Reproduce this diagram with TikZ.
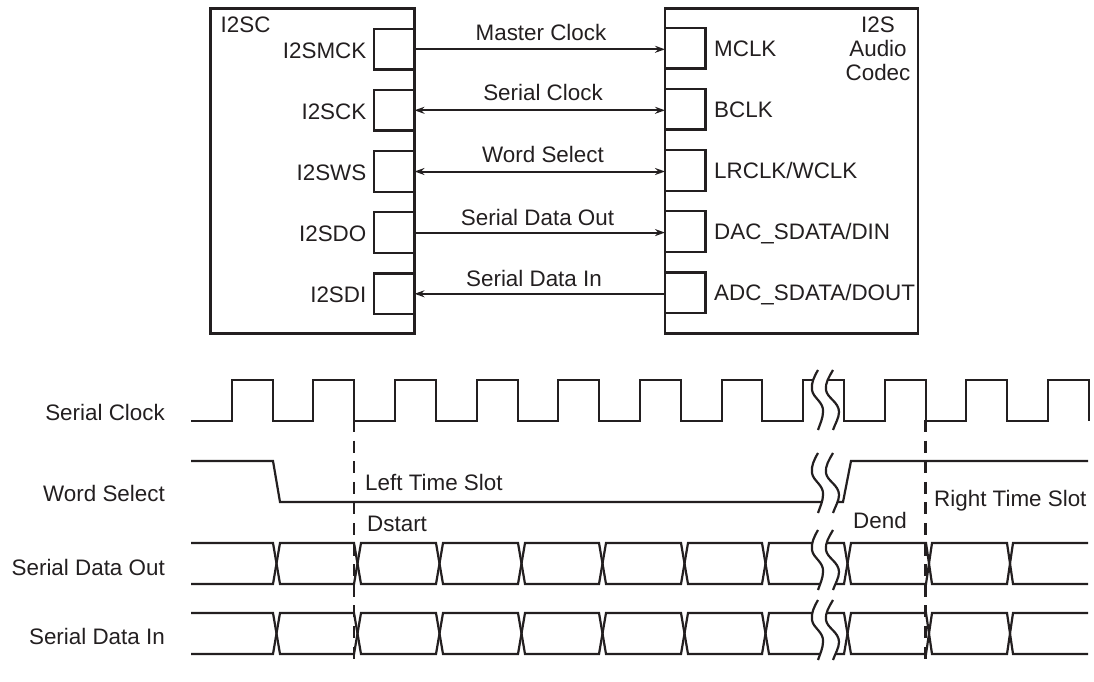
\documentclass[tikz,border=0pt]{standalone}
\usepackage{fontspec}
\setmainfont{Liberation Sans}
\usetikzlibrary{positioning, arrows.meta}
\definecolor{sigInk}{RGB}{35, 31, 32}

\begin{document}
\begin{tikzpicture}[
        x=1pt, y=-1pt,
        font=\fontsize{22.4}{24}\selectfont,
        text=sigInk,
        chip/.style={
            rectangle, draw=sigInk, line width=2.2pt, anchor=north west, outer sep=0pt,
            minimum width=#1, minimum height=325pt, inner sep=0pt
        },
        port/.style={
            rectangle, draw=sigInk, line width=2.2pt, outer sep=0pt,
            minimum width=40.5pt, minimum height=40.5pt, inner sep=0pt
        },
        portname/.style={inner sep=0pt, text height=16pt, text depth=0pt},
        txt/.style={inner sep=0pt},
        line/.style={draw=sigInk, line width=2pt},
        toR/.style={line, -{Stealth[length=10pt, width=7pt]}},
        toL/.style={line, {Stealth[length=10pt, width=7pt]}-},
        both/.style={line, {Stealth[length=10pt, width=7pt]}-{Stealth[length=10pt, width=7pt]}},
        wave/.style={draw=sigInk, line width=2.2pt, line join=miter},
        slot/.style={draw=sigInk, line width=2.2pt, dash pattern=on 12pt off 8.6pt},
        breakmark/.pic={
            \fill[white] (818,0) .. controls (814,7) and (811,13) .. (812,20)
                .. controls (813,28) and (824,32) .. (823,42)
                .. controls (823,48) and (820,54) .. (818,60)
                -- (833,60) .. controls (835,54) and (839,48) .. (839,42)
                .. controls (839,32) and (827,28) .. (826,20)
                .. controls (825,13) and (829,7) .. (833,0) -- cycle;
            \draw[wave] (818,0) .. controls (814,7) and (811,13) .. (812,20)
                .. controls (813,28) and (824,32) .. (823,42)
                .. controls (823,48) and (820,54) .. (818,60);
            \draw[wave] (833,0) .. controls (829,7) and (825,13) .. (826,20)
                .. controls (827,28) and (839,32) .. (839,42)
                .. controls (839,48) and (835,54) .. (833,60);
        }
    ]
    \useasboundingbox (0,0) rectangle (1094,682);

    % CHIPS
    \node[chip=204pt] (i2sc) at (210.5,8.5) {};
    \node[chip=253pt] (codec) at (665,8.5) {};
    \node[txt, anchor=base west] (i2scname) at (220.5,33) {I2SC};
    \node[txt, anchor=north, align=center] (codecname) at (878,16.5) {I2S\\Audio\\Codec};

    % PORTS ON I2SC
    \node[port, anchor=east] (mck) at (414.5,49.3) {};
    \node[port, anchor=east] (sck) at (414.5,110.3) {};
    \node[port, anchor=east] (sws) at (414.5,171.5) {};
    \node[port, anchor=east] (sdo) at (414.5,232.6) {};
    \node[port, anchor=east] (sdi) at (414.5,293.8) {};

    % PORTS ON CODEC
    \node[port, anchor=west] (mclk) at (665,48.3) {};
    \node[port, anchor=west] (bclk) at (665,109.3) {};
    \node[port, anchor=west] (lrclk) at (665,170.4) {};
    \node[port, anchor=west] (dac) at (665,231.6) {};
    \node[port, anchor=west] (adc) at (665,292.8) {};

    % PORT NAMES
    \node[portname, left=7.5pt of mck, yshift=-1pt] (mckname) {I2SMCK};
    \node[portname, left=7.5pt of sck, yshift=-1pt] (sckname) {I2SCK};
    \node[portname, left=7.5pt of sws, yshift=-1pt] (swsname) {I2SWS};
    \node[portname, left=7.5pt of sdo, yshift=-1pt] (sdoname) {I2SDO};
    \node[portname, left=7.5pt of sdi, yshift=-1pt] (sdiname) {I2SDI};
    \node[portname, right=8.5pt of mclk] (mclkname) {MCLK};
    \node[portname, right=8.5pt of bclk] (bclkname) {BCLK};
    \node[portname, right=8.5pt of lrclk] (lrclkname) {LRCLK/WCLK};
    \node[portname, right=8.5pt of dac] (dacname) {DAC\_SDATA/DIN};
    \node[portname, right=8.5pt of adc] (adcname) {ADC\_SDATA/DOUT};

    % CONNECT PORTS
    \draw[toR] (mck.east) -- (mck.east -| mclk.west);
    \draw[both] (sck.east) -- (sck.east -| bclk.west);
    \draw[both] (sws.east) -- (sws.east -| lrclk.west);
    \draw[toR] (sdo.east) -- (sdo.east -| dac.west);
    \draw[toL] (sdi.east) -- (sdi.east -| adc.west);

    \node[txt, anchor=base] (lblmck) at (541,41) {Master Clock};
    \node[txt, anchor=base] (lblsck) at (543,100.5) {Serial Clock};
    \node[txt, anchor=base] (lblsws) at (543,162) {Word Select};
    \node[txt, anchor=base] (lblsdo) at (537.5,225) {Serial Data Out};
    \node[txt, anchor=base] (lblsdi) at (534,286) {Serial Data In};

    % SIGNAL NAMES
    \node[txt, anchor=base east] (nameclk) at (165,420) {Serial Clock};
    \node[txt, anchor=base east] (namews) at (165,501) {Word Select};
    \node[txt, anchor=base east] (namedo) at (165,575) {Serial Data Out};
    \node[txt, anchor=base east] (namedi) at (165,644) {Serial Data In};

    % TIME SLOTS
    \draw[slot] (354,420) -- (354,664);
    \draw[slot] (925.5,420) -- (925.5,664);
    \node[txt, anchor=base west] (leftslot) at (365,490) {Left Time Slot};
    \node[txt, anchor=base west] (dstart) at (367,531) {Dstart};
    \node[txt, anchor=base west] (dend) at (853,528) {Dend};
    \node[txt, anchor=base west] (rightslot) at (934,506) {Right Time Slot};

    % SERIAL CLOCK
    \draw[wave] (191,421) -- (232,421) -- (232,380) -- (273,380) -- (273,421) -- (313,421) -- (313,380)
        -- (354,380) -- (354,421) -- (395,421) -- (395,380) -- (436,380) -- (436,421) -- (477,421)
        -- (477,380) -- (518,380) -- (518,421) -- (558,421) -- (558,380) -- (599,380) -- (599,421)
        -- (640,421) -- (640,380) -- (681,380) -- (681,421) -- (722,421) -- (722,380) -- (762,380)
        -- (762,421) -- (803,421) -- (803,380) -- (844,380) -- (844,421) -- (885,421) -- (885,380)
        -- (926,380) -- (926,421) -- (966,421) -- (966,380) -- (1007,380) -- (1007,421) -- (1048,421)
        -- (1048,380) -- (1089,380) -- (1089,421);

    % WORD SELECT
    \draw[wave] (191,461) -- (273,461) -- (280,502) -- (843,502) -- (851,461) -- (1088,461);

    % SERIAL DATA OUT
    \draw[wave] (191,543) -- (273,543) -- (280,584) -- (354,584) -- (361,543) -- (436,543) -- (443,584)
        -- (518,584) -- (525,543) -- (599,543) -- (606,584) -- (681,584) -- (688,543) -- (762,543)
        -- (769,584) -- (844,584) -- (851,543) -- (926,543) -- (932,584) -- (1007,584) -- (1013,543) -- (1088,543);
    \draw[wave] (191,584) -- (273,584) -- (280,543) -- (354,543) -- (361,584) -- (436,584) -- (443,543)
        -- (518,543) -- (525,584) -- (599,584) -- (606,543) -- (681,543) -- (688,584) -- (762,584)
        -- (769,543) -- (844,543) -- (851,584) -- (926,584) -- (932,543) -- (1007,543) -- (1013,584) -- (1088,584);

    % SERIAL DATA IN
    \draw[wave] (191,613) -- (273,613) -- (280,654) -- (354,654) -- (361,613) -- (436,613) -- (443,654)
        -- (518,654) -- (525,613) -- (599,613) -- (606,654) -- (681,654) -- (688,613) -- (762,613)
        -- (769,654) -- (844,654) -- (851,613) -- (926,613) -- (932,654) -- (1007,654) -- (1013,613) -- (1088,613);
    \draw[wave] (191,654) -- (273,654) -- (280,613) -- (354,613) -- (361,654) -- (436,654) -- (443,613)
        -- (518,613) -- (525,654) -- (599,654) -- (606,613) -- (681,613) -- (688,654) -- (762,654)
        -- (769,613) -- (844,613) -- (851,654) -- (926,654) -- (932,613) -- (1007,613) -- (1013,654) -- (1088,654);

    % BREAKS
    \pic at (0,370) {breakmark};
    \pic at (0,453) {breakmark};
    \pic at (0,530) {breakmark};
    \pic at (0,600) {breakmark};

\end{tikzpicture}
\end{document}
